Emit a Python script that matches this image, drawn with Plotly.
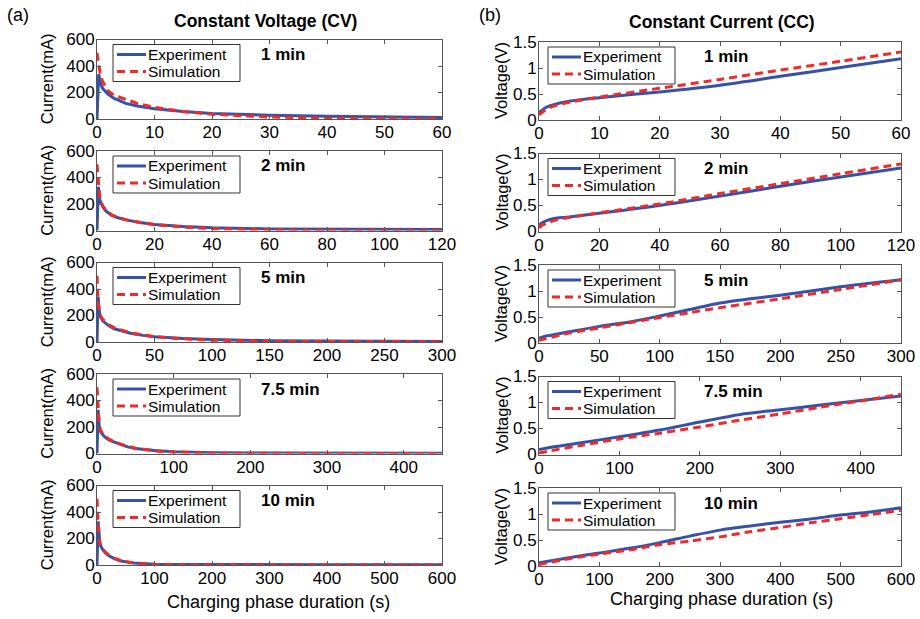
import plotly.graph_objects as go

# ---------------- data ----------------
durations = ["1 min", "2 min", "5 min", "7.5 min", "10 min"]
x_max = [60, 120, 300, 450, 600]
x_dtick = [10, 20, 50, 100, 100]
series_names = ["Experiment", "Simulation"]

# Constant Voltage: current (mA)
cv_t_1 = [0, 0.3, 0.6, 1, 2, 3, 5, 7, 10, 15, 20, 25, 30, 40, 50, 60]
cv_exp_1 = [0, 340, 270, 230, 185, 155, 118, 98, 78, 56, 42, 34, 28, 20, 15, 12]
cv_sim_1 = [500, 420, 330, 280, 210, 178, 145, 118, 88, 56, 36, 24, 15, 6, 2, 1]

cv_t_2 = [0, 0.5, 1, 2, 3, 5, 7, 10, 15, 20, 30, 40, 60, 80, 100, 120]
cv_exp_2 = [0, 330, 230, 180, 150, 115, 98, 80, 60, 46, 30, 20, 12, 9, 8, 7]
cv_sim_2 = [500, 330, 240, 185, 155, 120, 100, 82, 60, 45, 26, 14, 4, 1, 0, 0]

cv_t_3 = [0, 1, 2, 3, 5, 10, 15, 20, 30, 40, 50, 75, 100, 150, 200, 250, 300]
cv_exp_3 = [0, 340, 230, 190, 160, 124, 100, 86, 64, 50, 40, 27, 19, 10, 7, 5, 4]
cv_sim_3 = [500, 300, 240, 200, 170, 130, 108, 92, 68, 52, 40, 24, 14, 5, 2, 1, 0]

cv_t_4 = [0, 1.5, 3, 5, 10, 15, 20, 30, 40, 50, 75, 100, 150, 200, 300, 450]
cv_exp_4 = [0, 330, 195, 160, 125, 105, 92, 68, 50, 37, 22, 14, 6, 4, 3, 2]
cv_sim_4 = [500, 300, 210, 170, 132, 110, 95, 72, 54, 40, 20, 10, 3, 1, 0, 0]

cv_t_5 = [0, 2, 5, 10, 15, 20, 30, 40, 60, 80, 100, 150, 200, 300, 400, 600]
cv_exp_5 = [0, 330, 155, 116, 90, 72, 48, 32, 16, 9, 6, 4, 3, 2, 2, 2]
cv_sim_5 = [500, 300, 165, 122, 95, 76, 52, 36, 18, 9, 5, 2, 1, 0, 0, 0]

# Constant Current: voltage (V)
cc_t_1 = [0, 1, 2, 5, 10, 20, 30, 40, 50, 60]
cc_exp_1 = [0.14, 0.23, 0.28, 0.36, 0.43, 0.54, 0.67, 0.84, 1.01, 1.18]
cc_sim_1 = [0.10, 0.19, 0.25, 0.34, 0.44, 0.61, 0.78, 0.96, 1.13, 1.31]

cc_t_2 = [0, 1, 3, 5, 10, 20, 40, 60, 80, 100, 120]
cc_exp_2 = [0.12, 0.17, 0.22, 0.25, 0.28, 0.35, 0.50, 0.68, 0.87, 1.05, 1.22]
cc_sim_2 = [0.07, 0.12, 0.17, 0.21, 0.27, 0.36, 0.53, 0.73, 0.92, 1.11, 1.30]

cc_t_3 = [0, 5, 10, 25, 50, 75, 100, 125, 150, 175, 200, 250, 300]
cc_exp_3 = [0.09, 0.13, 0.15, 0.215, 0.32, 0.405, 0.52, 0.645, 0.77, 0.85, 0.92, 1.08, 1.215]
cc_sim_3 = [0.05, 0.08, 0.11, 0.19, 0.29, 0.39, 0.49, 0.585, 0.68, 0.765, 0.85, 1.03, 1.215]

cc_t_4 = [0, 10, 50, 100, 150, 200, 250, 300, 350, 400, 450]
cc_exp_4 = [0.094, 0.125, 0.22, 0.34, 0.47, 0.625, 0.77, 0.86, 0.95, 1.04, 1.125]
cc_sim_4 = [0.03, 0.06, 0.17, 0.30, 0.41, 0.53, 0.66, 0.78, 0.91, 1.03, 1.16]

cc_t_5 = [0, 50, 100, 150, 200, 250, 300, 350, 400, 450, 500, 550, 600]
cc_exp_5 = [0.06, 0.16, 0.25, 0.34, 0.45, 0.575, 0.69, 0.77, 0.84, 0.905, 0.98, 1.04, 1.12]
cc_sim_5 = [0.03, 0.14, 0.23, 0.31, 0.41, 0.48, 0.56, 0.66, 0.74, 0.83, 0.91, 0.99, 1.07]

cv_sets = [(cv_t_1, cv_exp_1, cv_sim_1), (cv_t_2, cv_exp_2, cv_sim_2), (cv_t_3, cv_exp_3, cv_sim_3),
           (cv_t_4, cv_exp_4, cv_sim_4), (cv_t_5, cv_exp_5, cv_sim_5)]
cc_sets = [(cc_t_1, cc_exp_1, cc_sim_1), (cc_t_2, cc_exp_2, cc_sim_2), (cc_t_3, cc_exp_3, cc_sim_3),
           (cc_t_4, cc_exp_4, cc_sim_4), (cc_t_5, cc_exp_5, cc_sim_5)]

# ---------------- layout geometry (pixels) ----------------
W, H = 920, 619
FONT = "Liberation Sans, Arial, Helvetica, sans-serif"
BLUE = "#3652a8"
RED = "#ee2a2a"
AXC = "#555555"
DASH = "8px,5px"

left_x = (97, 442)
right_x = (539, 901)
left_rows = [(39.5 + i * 111.5, 119 + i * 111.5) for i in range(5)]
right_rows = [(42 + i * 111.5, 120 + i * 111.5) for i in range(5)]
LEG_W, LEG_H, LEG_ROW = 127, 37, 17
LEG_FONT = 15.5


def px(x):
    return x / W


def py(y):
    return 1 - y / H


fig = go.Figure()
layout = dict(
    width=W, height=H,
    margin=dict(l=0, r=0, t=0, b=0, autoexpand=False),
    paper_bgcolor="white", plot_bgcolor="white",
    font=dict(family=FONT, size=17, color="black"),
    showlegend=False,
    annotations=[], shapes=[],
)

for col in range(2):
    sets = cv_sets if col == 0 else cc_sets
    rows = left_rows if col == 0 else right_rows
    xr = left_x if col == 0 else right_x
    for r in range(5):
        k = col * 5 + r + 1
        sfx = "" if k == 1 else str(k)
        t, ex, sm = sets[r]
        shape = "linear" if col == 0 else "spline"
        fig.add_trace(go.Scatter(x=t, y=ex, mode="lines", name=series_names[0],
                                 line=dict(color=BLUE, width=3, shape=shape, smoothing=0.8),
                                 xaxis="x" + sfx, yaxis="y" + sfx))
        fig.add_trace(go.Scatter(x=t, y=sm, mode="lines", name=series_names[1],
                                 line=dict(color=RED, width=3, dash=DASH, shape=shape, smoothing=0.8),
                                 xaxis="x" + sfx, yaxis="y" + sfx))
        top, bot = rows[r]
        common = dict(showline=True, linecolor=AXC, linewidth=1, mirror="ticks",
                      ticks="inside", ticklen=4, tickcolor=AXC, showgrid=False, zeroline=False,
                      tickfont=dict(size=17, family=FONT, color="black"))
        layout["xaxis" + sfx] = dict(domain=[px(xr[0]), px(xr[1])], anchor="y" + sfx,
                                     range=[0, x_max[r]], dtick=x_dtick[r], tick0=0,
                                     ticklabelstandoff=-2, **common)
        if col == 0:
            layout["yaxis" + sfx] = dict(domain=[py(bot), py(top)], anchor="x" + sfx,
                                         range=[0, 600], dtick=200, tick0=0,
                                         ticklabelstandoff=-2, **common)
        else:
            layout["yaxis" + sfx] = dict(domain=[py(bot), py(top)], anchor="x" + sfx,
                                         range=[0, 1.5], dtick=0.5, tick0=0,
                                         ticklabelstandoff=-2, **common)

        # in-panel legend box (MATLAB style)
        lx = 113 if col == 0 else 548
        lt = top + 5
        layout["shapes"].append(dict(type="rect", xref="paper", yref="paper",
                                     x0=px(lx), x1=px(lx + LEG_W), y0=py(lt + LEG_H), y1=py(lt),
                                     line=dict(color="#333333", width=1), fillcolor="white", layer="above"))
        for i, (nm, colr, dsh) in enumerate([(series_names[0], BLUE, "solid"), (series_names[1], RED, DASH)]):
            yy = lt + 10 + LEG_ROW * i
            layout["shapes"].append(dict(type="line", xref="paper", yref="paper",
                                         x0=px(lx + 4), x1=px(lx + 33), y0=py(yy), y1=py(yy),
                                         line=dict(color=colr, width=3, dash=dsh), layer="above"))
            layout["annotations"].append(dict(
                text=nm, x=px(lx + 34), y=py(yy), xref="paper", yref="paper",
                xanchor="left", yanchor="middle", showarrow=False, borderpad=0,
                font=dict(size=LEG_FONT, family=FONT, color="black")))

        # duration label
        layout["annotations"].append(dict(
            text="<b>%s</b>" % durations[r], x=px(259 if col == 0 else 702), y=py(top + 15),
            xref="paper", yref="paper", xanchor="left", yanchor="middle", showarrow=False,
            font=dict(size=17, family=FONT, color="black")))
        # y-axis title
        layout["annotations"].append(dict(
            text="Current(mA)" if col == 0 else "Voltage(V)",
            x=px(47 if col == 0 else 501), y=py((top + bot) / 2),
            xref="paper", yref="paper", xanchor="center", yanchor="middle",
            textangle=-90, showarrow=False, font=dict(size=16.5, family=FONT, color="black")))

# column titles, panel tags, x-axis titles
for txt, x, y, size, bold in [
    ("(a)", 18, 15, 18, False), ("(b)", 490, 15, 18, False),
    ("Constant Voltage (CV)", 265.5, 21, 17.5, True),
    ("Constant Current (CC)", 722, 22, 17.5, True),
    ("Charging phase duration (s)", 278.5, 602, 18, False),
    ("Charging phase duration (s)", 721.5, 599, 18, False),
]:
    layout["annotations"].append(dict(
        text="<b>%s</b>" % txt if bold else txt, x=px(x), y=py(y),
        xref="paper", yref="paper", xanchor="center", yanchor="middle", showarrow=False,
        font=dict(size=size, family=FONT, color="black")))

fig.update_layout(**layout)
fig.write_html("out.html")
